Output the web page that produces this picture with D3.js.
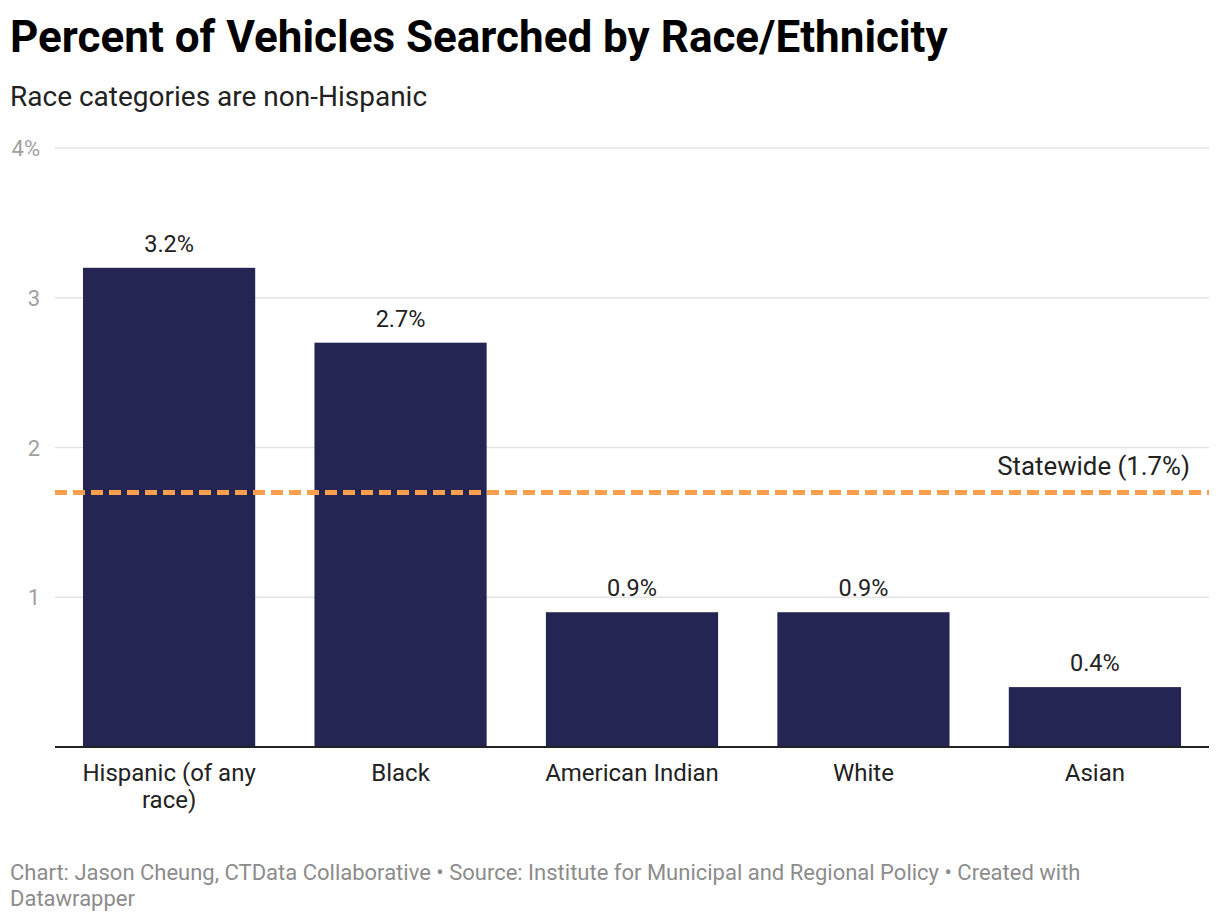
<!DOCTYPE html>
<html>
<head>
<meta charset="utf-8">
<script src="https://cdn.jsdelivr.net/npm/d3@7"></script>
<style>
  body { margin: 0; background: #fff; font-family: Roboto, sans-serif; }
</style>
</head>
<body>
<div id="chart"></div>
<script>
// data
var categories = ['Hispanic (of any race)', 'Black', 'American Indian', 'White', 'Asian'];
var values = [3.2, 2.7, 0.9, 0.9, 0.4];
var yTicks = [1, 2, 3, 4];
var statewide = 1.7;

const W = 1220, H = 922;
const MARGIN = { TOP: 148, LEFT: 55, BOTTOM: 175, RIGHT: 11 };
const BAR_COLOR = '#252554';
const LINE_COLOR = '#fa9f4d';

var svg = d3.select('#chart').append('svg')
	.attr('width', W)
	.attr('height', H);

svg.append('text')
	.attr('x', 10).attr('y', 52)
	.style('font-size', '44px').style('font-weight', 700).attr('fill', '#000')
	.text('Percent of Vehicles Searched by Race/Ethnicity');

svg.append('text')
	.attr('x', 10).attr('y', 106)
	.style('font-size', '28px').attr('fill', '#222')
	.text('Race categories are non-Hispanic');

var x = d3.scaleBand().domain(categories)
	.range([MARGIN.LEFT, W - MARGIN.RIGHT])
	.paddingInner(0.256).paddingOuter(0.121);
var y = d3.scaleLinear().domain([0, 4]).range([H - MARGIN.BOTTOM, MARGIN.TOP]);

// grid + y labels
var grid = svg.append('g');
grid.selectAll('line').data(yTicks).enter().append('line')
	.attr('x1', MARGIN.LEFT).attr('x2', W - MARGIN.RIGHT)
	.attr('y1', function (d) { return y(d); })
	.attr('y2', function (d) { return y(d); })
	.style('stroke', '#e3e3e3').style('stroke-width', 1.5);
grid.selectAll('text').data(yTicks).enter().append('text')
	.attr('x', 40).attr('y', function (d) { return y(d) + 8; })
	.attr('text-anchor', 'end')
	.style('font-size', '22px').attr('fill', '#a0a0a0')
	.text(function (d) { return d === 4 ? d + '%' : d; });

// bars
svg.selectAll('.bar').data(values).enter().append('rect')
	.attr('class', 'bar')
	.attr('x', function (d, i) { return x(categories[i]); })
	.attr('y', function (d) { return y(d); })
	.attr('width', x.bandwidth())
	.attr('height', function (d) { return y(0) - y(d); })
	.attr('fill', BAR_COLOR);

svg.selectAll('.val').data(values).enter().append('text')
	.attr('class', 'val')
	.attr('x', function (d, i) { return x(categories[i]) + x.bandwidth() / 2; })
	.attr('y', function (d) { return y(d) - 16; })
	.attr('text-anchor', 'middle')
	.style('font-size', '23.5px').attr('fill', '#222')
	.text(function (d) { return d.toFixed(1) + '%'; });

// baseline
svg.append('line')
	.attr('x1', MARGIN.LEFT).attr('x2', W - MARGIN.RIGHT)
	.attr('y1', y(0)).attr('y2', y(0))
	.style('stroke', '#222').style('stroke-width', 2);

// x axis labels
var xAxis = d3.axisBottom(x).tickSize(0).tickPadding(0);
var gx = svg.append('g')
	.attr('transform', 'translate(0,' + y(0) + ')')
	.call(xAxis);
gx.select('.domain').remove();
gx.selectAll('text')
	.style('font-size', '24px').style('font-family', 'Roboto, sans-serif').attr('fill', '#222')
	.attr('dy', null).attr('y', 34)
	.each(function (d) {
		var t = d3.select(this);
		if (d === 'Hispanic (of any race)') {
			t.text(null);
			t.append('tspan').attr('x', 0).text('Hispanic (of any');
			t.append('tspan').attr('x', 0).attr('dy', 27).text('race)');
		}
	});

// statewide reference line
svg.append('line')
	.attr('x1', MARGIN.LEFT).attr('x2', W - MARGIN.RIGHT)
	.attr('y1', y(statewide)).attr('y2', y(statewide))
	.style('stroke', LINE_COLOR).style('stroke-width', 5)
	.style('stroke-dasharray', '12,6');

svg.append('text')
	.attr('x', 1190).attr('y', y(statewide) - 17)
	.attr('text-anchor', 'end')
	.style('font-size', '25.8px').attr('fill', '#222')
	.text('Statewide (' + statewide + '%)');

// footer
var foot = svg.append('text')
	.attr('x', 10).attr('y', 880)
	.style('font-size', '22px').attr('fill', '#8c8c8c');
foot.append('tspan').attr('x', 10)
	.text('Chart: Jason Cheung, CTData Collaborative \u2022 Source: Institute for Municipal and Regional Policy \u2022 Created with');
foot.append('tspan').attr('x', 10).attr('dy', 26).text('Datawrapper');
</script>
</body>
</html>
